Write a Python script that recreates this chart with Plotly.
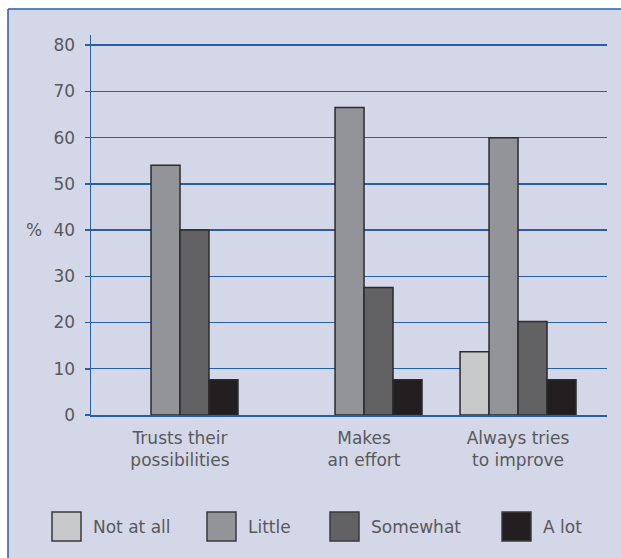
import plotly.graph_objects as go

categories = ["Trusts their<br>possibilities", "Makes<br>an effort", "Always tries<br>to improve"]
series_names = ["Not at all", "Little", "Somewhat", "A lot"]
not_at_all = [None, None, 13.7]
little = [54.0, 66.5, 60.0]
somewhat = [40.0, 27.6, 20.2]
a_lot = [7.6, 7.6, 7.6]
y_ticks = [0, 10, 20, 30, 40, 50, 60, 70, 80]

# layout constants
W, H = 621, 558
L, R, T, B = 91, 14, 35, 143
GROUP_POS = [0.0, 1.195, 2.195]
colors = ["#c8c9cb", "#939497", "#626264", "#231f20"]
blue = "#2660a4"
bg = "#d4d7e8"
txt = "#58595b"
font = "DejaVu Sans"
fs = 17

pw = W - L - R
ph = H - T - B


def px2x(px):
    return (px - L) / pw


def py2y(py):
    return (H - B - py) / ph


fig = go.Figure()
for name, vals, c in zip(series_names, [not_at_all, little, somewhat, a_lot], colors):
    fig.add_trace(go.Bar(
        x=GROUP_POS, y=vals, name=name,
        marker=dict(color=c, line=dict(color="#2b2b2d", width=1.5)),
        showlegend=False, hoverinfo="skip",
    ))

shapes = [
    # white margin strips outside the framed panel
    dict(type="rect", xref="paper", yref="paper", x0=px2x(-20), x1=px2x(8),
         y0=py2y(-20), y1=py2y(H + 20), fillcolor="white", line=dict(width=0), layer="below"),
    dict(type="rect", xref="paper", yref="paper", x0=px2x(-20), x1=px2x(W + 20),
         y0=py2y(-20), y1=py2y(9), fillcolor="white", line=dict(width=0), layer="below"),
    # frame lines (top and left)
    dict(type="line", xref="paper", yref="paper", x0=px2x(8), x1=px2x(W + 20),
         y0=py2y(9), y1=py2y(9), line=dict(color=blue, width=1.5), layer="below"),
    dict(type="line", xref="paper", yref="paper", x0=px2x(8), x1=px2x(8),
         y0=py2y(9), y1=py2y(H + 20), line=dict(color=blue, width=1.5), layer="below"),
]
annotations = [
    dict(text="%", xref="paper", yref="y", x=px2x(44), y=40, xanchor="right",
         yanchor="middle", showarrow=False, font=dict(family=font, size=fs, color=txt)),
]
legend_box_x = [52, 207, 330, 502]
for name, c, bx in zip(series_names, colors, legend_box_x):
    shapes.append(dict(type="rect", xref="paper", yref="paper",
                       x0=px2x(bx), x1=px2x(bx + 29), y0=py2y(541), y1=py2y(512),
                       fillcolor=c, line=dict(color="#3a3a3c", width=1.5)))
    annotations.append(dict(text=name, xref="paper", yref="paper",
                            x=px2x(bx + 39), y=py2y(527), xanchor="left", yanchor="middle",
                            showarrow=False, font=dict(family=font, size=fs, color=txt)))

fig.update_layout(
    width=W, height=H,
    margin=dict(l=L, r=R, t=T, b=B, pad=0),
    paper_bgcolor=bg,
    plot_bgcolor="rgba(0,0,0,0)",
    barmode="group", bargap=0.247, bargroupgap=0,
    font=dict(family=font, size=fs, color=txt),
    shapes=shapes, annotations=annotations,
    hovermode=False,
    xaxis=dict(range=[(L - 180) / 154, (W - R - 180) / 154],
               tickmode="array", tickvals=GROUP_POS, ticktext=categories,
               showgrid=False, zeroline=False, showline=True, linecolor=blue, linewidth=1.5,
               ticks="", ticklabelstandoff=7,
               tickfont=dict(family=font, size=fs, color=txt)),
    yaxis=dict(range=[0, 82.2], tickmode="array", tickvals=y_ticks,
               showgrid=True, gridcolor=blue, gridwidth=1.4,
               zeroline=False, showline=True, linecolor=blue, linewidth=1.5,
               ticks="outside", ticklen=5, tickcolor=blue, tickwidth=1.5,
               ticklabelstandoff=6,
               tickfont=dict(family=font, size=fs, color=txt)),
)

fig.write_html("out.html",
               config={"displayModeBar": False, "staticPlot": True},
               post_script="document.body.style.margin='0';document.body.style.overflow='hidden';"
                           "document.body.style.background='" + bg + "';")
